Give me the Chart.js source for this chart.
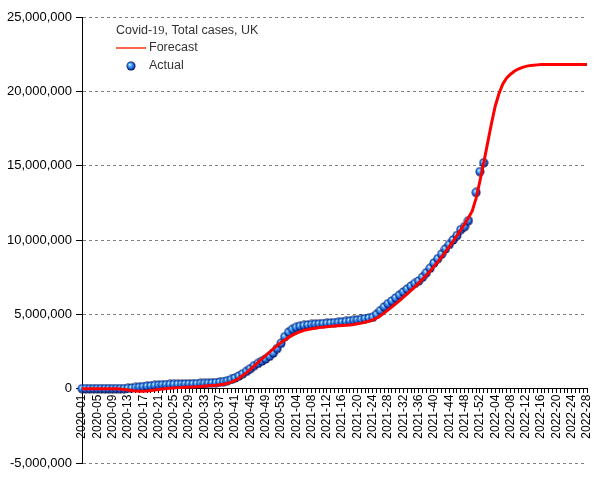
<!DOCTYPE html>
<html>
<head>
<meta charset="utf-8">
<script src="https://cdn.jsdelivr.net/npm/chart.js@4/dist/chart.umd.min.js"></script>
<style>
  body { margin: 0; background: #fff; }
  canvas { display: block; }
</style>
</head>
<body>
<canvas id="casesChart" width="605" height="480"></canvas>
<script>
// week labels: 2020-01..2020-53, 2021-01..2021-52, 2022-01..2022-28
const weeksPerYear = [[2020, 53], [2021, 52], [2022, 28]];
const weekLabels = [];
weeksPerYear.forEach(([year, n]) => {
    for (let w = 1; w <= n; w++) weekLabels.push(year + '-' + String(w).padStart(2, '0'));
});

// total cases, millions
const forecastCases = [
    0, 0, 0, 0, 0, 0, 0, 0, 0, 0,
    -0.02, -0.05, -0.09, -0.13, -0.16, -0.18, -0.18, -0.16, -0.13, -0.09,
    -0.05, -0.02, 0.01, 0.03, 0.05, 0.07, 0.08, 0.10, 0.11, 0.12,
    0.13, 0.15, 0.17, 0.19, 0.21, 0.23, 0.26, 0.30, 0.36, 0.44,
    0.55, 0.70, 0.88, 1.08, 1.30, 1.53, 1.77, 2.00, 2.22, 2.45,
    2.68, 2.90, 3.10, 3.28, 3.45, 3.60, 3.72, 3.83, 3.92, 3.98,
    4.03, 4.07, 4.11, 4.14, 4.17, 4.19, 4.21, 4.23, 4.25, 4.27,
    4.29, 4.32, 4.36, 4.41, 4.47, 4.54, 4.62, 4.75, 4.90, 5.10,
    5.30, 5.50, 5.70, 5.92, 6.15, 6.38, 6.61, 6.85, 7.10, 7.36,
    7.63, 7.92, 8.22, 8.53, 8.86, 9.20, 9.55, 9.91, 10.29, 10.68,
    11.08, 11.50, 11.95, 12.80, 13.95, 15.20, 16.50, 17.80, 19.00, 19.85,
    20.50, 20.90, 21.15, 21.35, 21.50, 21.60, 21.68, 21.73, 21.76, 21.78,
    21.80, 21.80, 21.80, 21.80, 21.80, 21.80, 21.80, 21.80, 21.80, 21.80,
    21.80, 21.80, 21.80
];
const actualCases = [
    0, 0, 0, 0, 0, 0, 0, 0, 0, 0.0003,
    0.0015, 0.006, 0.02, 0.045, 0.08, 0.11, 0.14, 0.17, 0.195, 0.22,
    0.24, 0.26, 0.275, 0.285, 0.295, 0.305, 0.31, 0.32, 0.325, 0.33,
    0.34, 0.35, 0.36, 0.37, 0.39, 0.41, 0.44, 0.48, 0.54, 0.62,
    0.72, 0.85, 1.00, 1.17, 1.35, 1.55, 1.70, 1.85, 2.00, 2.18,
    2.40, 2.70, 3.05, 3.50, 3.80, 4.00, 4.13, 4.20, 4.25, 4.29,
    4.32, 4.34, 4.36, 4.38, 4.40, 4.42, 4.44, 4.46, 4.49, 4.52,
    4.56, 4.59, 4.62, 4.66, 4.71, 4.75, 4.80, 5.00, 5.25, 5.50,
    5.72, 5.90, 6.10, 6.30, 6.50, 6.70, 6.90, 7.08, 7.25, 7.50,
    7.80, 8.10, 8.45, 8.75, 9.05, 9.40, 9.70, 10.00, 10.30, 10.70,
    10.90, 11.30, null, 13.20, 14.60, 15.20
];

const yTicks = [-5000000, 0, 5000000, 10000000, 15000000, 20000000, 25000000];

function makeBall(r) {
    const c = document.createElement('canvas');
    const s = Math.ceil(r * 2) + 1;
    c.width = c.height = s;
    const g = c.getContext('2d');
    const m = s / 2;
    const grad = g.createRadialGradient(m - r * 0.3, m - r * 0.35, 0.2, m, m, r);
    grad.addColorStop(0, '#d8f6ff');
    grad.addColorStop(0.25, '#62bcff');
    grad.addColorStop(0.6, '#2574e8');
    grad.addColorStop(0.85, '#0e3096');
    grad.addColorStop(1, '#000030');
    g.fillStyle = grad;
    g.beginPath();
    g.arc(m, m, r, 0, Math.PI * 2);
    g.fill();
    return c;
}
const ball = makeBall(4.5);

const legendBox = {
    id: 'legendBox',
    afterDatasetsDraw(chart) {
        const ctx = chart.ctx;
        ctx.save();
        ctx.fillStyle = '#333';
        ctx.textBaseline = 'middle';
        const sans = '12.5px "Liberation Sans", Arial, sans-serif';
        ctx.font = sans;
        let x = 116;
        ctx.fillText('Covid-', x, 31);
        x += ctx.measureText('Covid-').width;
        ctx.font = '12.5px "Liberation Serif", "Times New Roman", serif';
        ctx.fillText('19', x, 31);
        x += ctx.measureText('19').width;
        ctx.font = sans;
        ctx.fillText(', Total cases, UK', x, 31);

        ctx.strokeStyle = '#ff3010';
        ctx.lineWidth = 1.5;
        ctx.beginPath();
        ctx.moveTo(116, 48);
        ctx.lineTo(146, 48);
        ctx.stroke();
        ctx.fillText('Forecast', 149, 48);

        ctx.drawImage(ball, 131 - ball.width / 2, 66 - ball.height / 2);
        ctx.fillText('Actual', 149, 66);
        ctx.restore();
    }
};

const ctx = document.getElementById('casesChart').getContext('2d');
window.casesChart = new Chart(ctx, {
    type: 'line',
    data: {
        labels: weekLabels,
        datasets: [{
            label: 'Forecast',
            data: forecastCases.map(v => v * 1e6),
            borderColor: '#ff0000',
            borderWidth: 3,
            pointRadius: 0,
            tension: 0,
            fill: false,
            order: 0
        }, {
            label: 'Actual',
            data: actualCases.map(v => v == null ? null : v * 1e6),
            showLine: false,
            pointStyle: ball,
            pointRadius: 4.5,
            clip: false,
            order: 1
        }]
    },
    options: {
        responsive: false,
        animation: false,
        layout: { padding: { left: 3, right: 18, top: 17, bottom: 17 } },
        plugins: {
            legend: { display: false },
            tooltip: { enabled: false }
        },
        scales: {
            x: {
                type: 'category',
                position: { y: 0 },
                offset: false,
                grid: {
                    drawOnChartArea: false,
                    drawTicks: true,
                    tickLength: 4,
                    tickColor: '#000',
                    color: '#000'
                },
                border: { display: true, color: '#000', width: 1 },
                ticks: {
                    autoSkip: false,
                    minRotation: 90,
                    maxRotation: 90,
                    padding: 2,
                    color: '#000',
                    font: { family: '"Liberation Sans", Arial, sans-serif', size: 12 },
                    callback: function (val, i) {
                        return i % 4 === 0 ? weekLabels[i] : '';
                    }
                }
            },
            y: {
                min: yTicks[0],
                max: yTicks[yTicks.length - 1],
                afterBuildTicks: axis => { axis.ticks = yTicks.map(v => ({ value: v })); },
                grid: {
                    color: '#808080',
                    tickColor: '#000',
                    tickLength: 6,
                    tickBorderDash: []
                },
                border: { display: true, color: '#000', width: 1, dash: [3, 3] },
                ticks: {
                    padding: 4,
                    color: '#000',
                    font: { family: '"Liberation Sans", Arial, sans-serif', size: 13 },
                    callback: v => v.toLocaleString('en-US')
                }
            }
        }
    },
    plugins: [legendBox]
});
</script>
</body>
</html>
